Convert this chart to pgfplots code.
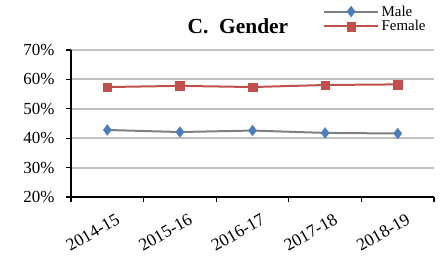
\documentclass[border=0pt]{standalone}
\usepackage{pgfplots}
\pgfplotsset{compat=1.18}
\usepackage{fontspec}
\setmainfont{Liberation Serif}
\definecolor{maleline}{RGB}{128,128,128}
\definecolor{maleblue}{RGB}{74,126,187}
\definecolor{femred}{RGB}{192,80,77}
\definecolor{gridgray}{RGB}{191,191,191}
\begin{document}
\begin{tikzpicture}
\path[use as bounding box] (-71bp,-59bp) rectangle (372bp,197bp);
\begin{axis}[
  at={(0,0)}, anchor=south west,
  scale only axis, width=363bp, height=147bp,
  xmin=-0.5, xmax=4.5, ymin=20, ymax=70,
  axis x line*=bottom, axis y line*=left,
  axis line style={black, line width=1.5bp, -},
  xtick={0,1,2,3,4},
  xticklabels={2014-15,2015-16,2016-17,2017-18,2018-19},
  x tick style={draw=none},
  x tick label style={rotate=30, anchor=north east, font=\fontsize{17.5}{19}\selectfont, yshift=-13bp, xshift=1.5bp, inner sep=0pt},
  extra x ticks={-0.5,0.5,1.5,2.5,3.5,4.5},
  extra x tick labels={},
  extra x tick style={grid=none, x tick style={draw=black, line width=1.2bp}, major tick length=5bp, tick align=outside},
  ytick={20,30,40,50,60,70},
  yticklabels={20\%,30\%,40\%,50\%,60\%,70\%},
  y tick label style={font=\fontsize{17}{19}\selectfont, xshift=-8bp},
  y tick style={black, line width=1.2bp},
  major tick length=5bp, tick align=outside,
  ymajorgrids, major grid style={gridgray, line width=2bp},
  legend style={at={(0.694,1.31)}, anchor=north west, draw=none, fill=none,
    font=\fontsize{15}{17}\selectfont, inner sep=0pt, row sep=1bp,
    nodes={inner xsep=2.5bp, inner ysep=1bp},
    legend cell align=left},
  legend image code/.code={\draw[mark repeat=2,mark phase=2] plot coordinates {(0bp,0bp)(27bp,0bp)(54bp,0bp)};},
  clip=false,
]
\addplot[maleline, line width=2bp, mark=diamond*, mark size=5.5bp, mark options={solid, draw=maleblue, fill=maleblue, line width=0.2bp}]
  coordinates {(0,42.8) (1,42.1) (2,42.6) (3,41.8) (4,41.6)};
\addlegendentry{Male}
\addplot[femred, line width=2bp, mark=square*, mark size=4.3bp, mark options={solid, draw=femred, fill=femred, line width=0.2bp}]
  coordinates {(0,57.4) (1,57.8) (2,57.4) (3,58.1) (4,58.3)};
\addlegendentry{Female}
\node[font=\bfseries\fontsize{21.5}{23}\selectfont, anchor=base] at (axis cs:1.8,75.5) {C.\ \ Gender};
\end{axis}
\end{tikzpicture}
\end{document}
